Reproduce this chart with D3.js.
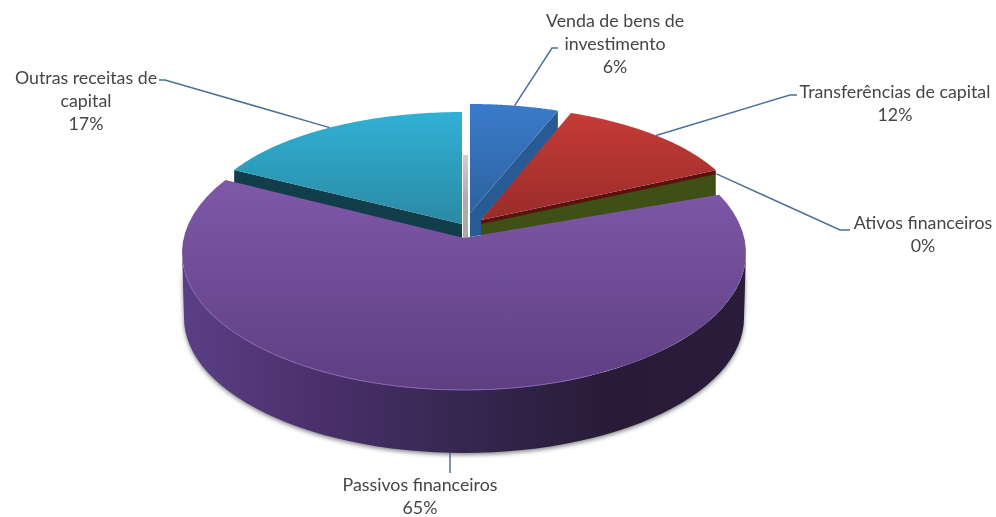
<!DOCTYPE html>
<html lang="pt">

<head>
  <meta charset="UTF-8">
  <title>Receitas de capital</title>
  <style>
    html, body { margin: 0; padding: 0; background: #fff; }
    svg { display: block; filter: blur(0.5px); }
    text { font-family: Lato, "Open Sans", sans-serif; font-size: 17.8px; fill: #454545; }
  </style>
</head>

<body>
  <svg id="svg" width="996" height="517"></svg>

  <script src="https://d3js.org/d3.v7.min.js"></script>
  <script>
    const categories = ['Venda de bens de investimento', 'Transferências de capital', 'Ativos financeiros', 'Passivos financeiros', 'Outras receitas de capital']
    const values = [5.6, 12.2, 0.2, 65, 17]
    const labelLines = [
      ['Venda de bens de', 'investimento'],
      ['Transferências de capital'],
      ['Ativos financeiros'],
      ['Passivos financeiros'],
      ['Outras receitas de', 'capital']
    ]

    // every slice is pulled out on its own, so each has its own ellipse and apex
    const shapes = [
      { ax: 470, ay: 213, cx: 470, cy: 213, rx: 255, ry: 109, depth: 20, top: ['#3b7bca', '#2c639f'] },
      { ax: 481, ay: 220, cx: 481, cy: 220, rx: 261, ry: 114, depth: 4, top: ['#c63b37', '#992c2a'] },
      { ax: 481, ay: 223, cx: 481, cy: 223, rx: 261, ry: 114, depth: 28, top: ['#3f5016', '#3f5016'] },
      { ax: 464, ay: 238, cx: 464, cy: 253, rx: 282, ry: 137, depth: 63, top: ['#7f58a8', '#5e3f82'] },
      { ax: 462, ay: 224, cx: 462, cy: 224, rx: 260, ry: 112, depth: 17, top: ['#31b0d5', '#2a8aa4'] }
    ]
    const wallColors = ['#285b93', '#5a1210', '#3f5016', '#4a2f6b', '#123e4b']

    // text position and leader: label centre, first baseline, elbow and end of the leader
    const labelLayout = [
      { x: 615, y: 27, elbow: [552, 48], end: [558, 48] },
      { x: 895, y: 98, elbow: [790, 95], end: [797, 95] },
      { x: 923, y: 229, elbow: [840, 230], end: [850, 230] },
      { x: 420, y: 491, elbow: [450, 468], end: [450, 473] },
      { x: 86, y: 84, elbow: [165, 80], end: [159, 80] }
    ]

    const svg = d3.select('#svg')
    const defs = svg.append('defs')

    const pie = d3.pie().sort(null).value(d => d)
    const slices = pie(values)
    const percent = d3.format('.0%')
    const total = d3.sum(values)

    const pointAt = (s, a, dy = 0) => [s.cx + s.rx * Math.sin(a), s.cy - s.ry * Math.cos(a) + dy]
    const arcPoints = (s, a0, a1, dy = 0) => d3.range(61).map(i => pointAt(s, a0 + (a1 - a0) * i / 60, dy))
    const line = d3.line()

    function addGradient(id, stops, horizontal) {
      const g = defs.append('linearGradient')
        .attr('id', id)
        .attr('x1', 0).attr('y1', 0)
        .attr('x2', horizontal ? 1 : 0).attr('y2', horizontal ? 0 : 1)
      stops.forEach((c, i) => g.append('stop').attr('offset', i / (stops.length - 1)).attr('stop-color', c))
    }

    shapes.forEach((s, i) => addGradient('top' + i, s.top, false))
    addGradient('purpleSide', ['#5b3f85', '#4a2f6b', '#35274f', '#291b38', '#2a1c3a'], true)
    addGradient('grayWall', ['#d0d0d0', '#adadad', '#a9a9a9'], false)

    defs.append('filter').attr('id', 'soft')
      .attr('x', '-5%').attr('y', '-5%').attr('width', '110%').attr('height', '110%')
      .append('feGaussianBlur').attr('stdDeviation', 2.2)

    const topPath = (s, a0, a1) => line([[s.ax, s.ay], ...arcPoints(s, a0, a1), [s.ax, s.ay]]) + 'Z'

    // straight cut face running from the apex to one end of the arc
    function cutWall(s, a) {
      const p = pointAt(s, a)
      return line([[s.ax, s.ay], p, [p[0], p[1] + s.depth], [s.ax, s.ay + s.depth]]) + 'Z'
    }

    function drawFlatSlice(i, wallAngle) {
      const s = shapes[i]
      const d = slices[i]
      svg.append('path').attr('d', cutWall(s, wallAngle)).attr('fill', wallColors[i])
      if (i !== 2) {
        svg.append('path').attr('d', topPath(s, d.startAngle, d.endAngle)).attr('fill', `url(#top${i})`)
      }
    }

    // back to front
    drawFlatSlice(4, slices[4].startAngle)

    const teal = shapes[4]
    svg.append('rect')
      .attr('x', teal.ax + 1).attr('y', teal.ay - 69)
      .attr('width', 5).attr('height', 85)
      .attr('fill', 'url(#grayWall)')

    drawFlatSlice(0, slices[0].endAngle)
    // foot of the blue slice under its apex
    svg.append('path')
      .attr('d', line([[shapes[0].ax, shapes[0].ay], [shapes[0].ax + 11, shapes[0].ay + 7], [shapes[0].ax + 11, shapes[0].ay + 22], [shapes[0].ax, shapes[0].ay + 24]]) + 'Z')
      .attr('fill', wallColors[0])

    drawFlatSlice(2, slices[2].startAngle)
    drawFlatSlice(1, slices[1].endAngle)

    // passivos financeiros, the big slice in front
    const big = shapes[3]
    const bigBottom = { cx: big.cx, cy: big.cy + big.depth + 2, rx: big.rx - 2, ry: big.ry - 2 }
    const front = [Math.PI / 2, Math.PI * 1.5]

    svg.append('path')
      .attr('d', line(arcPoints(bigBottom, front[0], front[1], 2).concat(arcPoints(big, front[1], front[0], 10))) + 'Z')
      .attr('fill', '#888')
      .attr('filter', 'url(#soft)')

    svg.append('path')
      .attr('d', line(arcPoints(big, front[0], front[1]).concat(arcPoints(bigBottom, front[1], front[0]))) + 'Z')
      .attr('fill', 'url(#purpleSide)')

    // runs a little past its end angle so it tucks under the teal wall
    svg.append('path')
      .attr('d', topPath(big, slices[3].startAngle, slices[3].endAngle + 0.06))
      .attr('fill', 'url(#top3)')

    svg.append('path')
      .attr('d', line(arcPoints(big, Math.PI * 0.85, Math.PI * 1.45)))
      .attr('fill', 'none')
      .attr('stroke', '#8562b0')
      .attr('stroke-width', 1)

    // leaders and labels
    const leaderStart = i => {
      const mid = (slices[i].startAngle + slices[i].endAngle) / 2
      if (i === 3) return [labelLayout[i].elbow[0], pointAt(bigBottom, mid)[1]]
      return pointAt(shapes[i], mid)
    }

    slices.forEach((d, i) => {
      const l = labelLayout[i]
      svg.append('path')
        .attr('d', line([leaderStart(i), l.elbow, l.end]))
        .attr('fill', 'none')
        .attr('stroke', '#4a7197')
        .attr('stroke-width', 1.5)

      const lines = labelLines[i].concat(percent(d.value / total))
      const label = svg.append('text')
        .attr('aria-label', categories[i])
        .attr('text-anchor', 'middle')
      lines.forEach((t, k) => {
        label.append('tspan')
          .attr('x', l.x)
          .attr('y', l.y + k * 23)
          .text(t)
      })
    })
  </script>
</body>

</html>
